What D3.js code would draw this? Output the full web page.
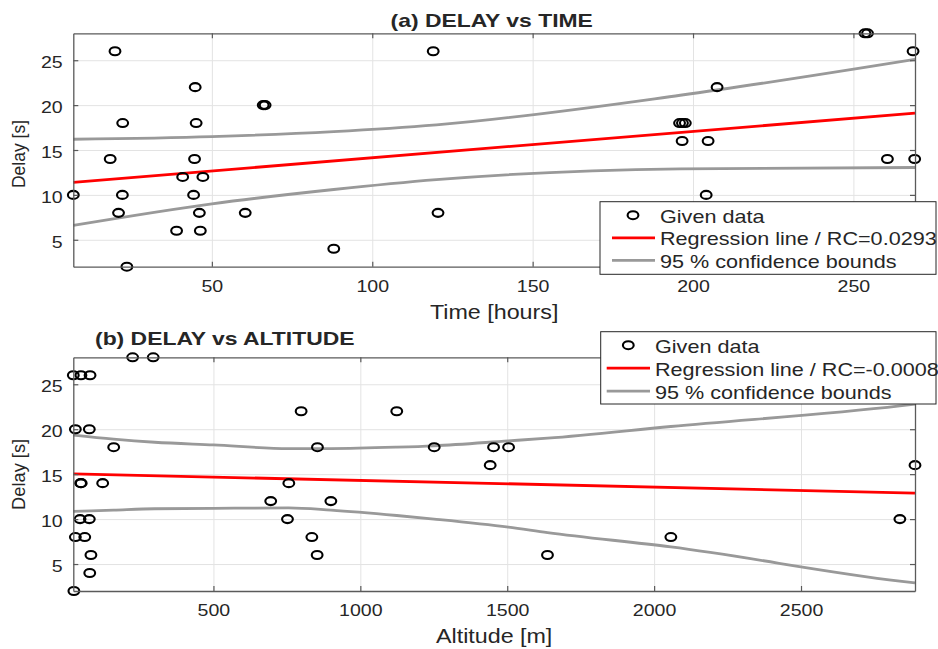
<!DOCTYPE html>
<html>
<head>
<meta charset="utf-8">
<script src="https://cdn.jsdelivr.net/npm/d3@7"></script>
<style>
  body { margin: 0; background: #fff; }
  text { font-family: "Liberation Sans", Arial, sans-serif; fill: #262626; }
</style>
</head>
<body>
<div id="chart"></div>
<script>
// Panel (a): delay vs time.
const timeHours = [19.8, 44.8, 66.0, 66.6, 22.2, 45.1, 18.3, 44.6, 40.9, 47.2, 6.8, 22.1, 44.3, 20.9, 46.1, 60.4,
                   39.0, 46.4, 88.0, 23.5, 119.0, 120.5, 253.6, 254.4, 268.6, 207.5, 195.8, 196.7, 197.6, 196.6,
                   204.7, 260.6, 269.1, 204.1];
const delayA = [26, 22, 20, 20, 18, 18, 14, 14, 12, 12, 10, 10, 10, 8, 8, 8,
                6, 6, 4, 2, 26, 8, 28, 28, 26, 22, 18, 18, 18, 16,
                16, 14, 14, 10];
const fitTime = [6.8, 269.2];
const fitA = [11.4, 19.1];
const boundTime = [6.8, 50, 88, 120, 196, 269.2];
const upperA = [16.2, 16.5, 17.05, 17.8, 21.1, 25.1];
const lowerA = [6.6, 9.0, 10.6, 11.7, 12.9, 13.05];

// Panel (b): delay vs altitude.
const altitude = [23, 49, 80, 225, 295, 30, 77.5, 160.5, 48, 50, 123, 46, 77.5, 30, 62, 83, 79, 25,
                  798.5, 695, 756.6, 752, 854, 899.7, 835, 853, 1124, 1251.5, 1453.5, 1504.6, 1442, 1637,
                  2888, 2836.5, 2057];
const delayB = [26, 26, 26, 28, 28, 20, 20, 18, 14, 14, 14, 10, 10, 8, 8, 6, 4, 2,
                22, 12, 14, 10, 18, 12, 8, 6, 22, 18, 18, 18, 16, 6,
                16, 10, 8];
const fitAlt = [23, 2888];
const fitB = [15.03, 12.9];
const boundAlt = [23, 160, 300, 500, 756, 900, 1124, 1251, 1504, 1637, 2057, 2836, 2888];
const upperB = [19.35, 18.9, 18.55, 18.25, 17.85, 17.85, 18.0, 18.15, 18.7, 19.0, 20.3, 22.6, 22.8];
const lowerB = [10.85, 11.0, 11.15, 11.2, 11.25, 11.0, 10.4, 10.0, 9.1, 8.5, 6.9, 3.1, 2.9];

const delayTicks = [5, 10, 15, 20, 25];
const timeTicks = [50, 100, 150, 200, 250];
const altTicks = [500, 1000, 1500, 2000, 2500];

const legendA = ['Given data', 'Regression line / RC=0.0293', '95 % confidence bounds'];
const legendB = ['Given data', 'Regression line / RC=-0.0008', '95 % confidence bounds'];

// SVG constants.
const width = 938;
const height = 649;
const sx = 1.2; // text looks horizontally stretched in the original

const svg = d3.select('#chart')
              .append('svg')
              .attr('width', width)
              .attr('height', height);

function stretchText(sel) {
    sel.attr('transform', function() {
        const old = d3.select(this).attr('data-t') || '';
        return old + ' scale(' + sx + ',1)';
    });
}

function drawPanel(p) {
    const x = d3.scaleLinear().domain(p.xDomain).range([p.left, p.right]);
    const y = d3.scaleLinear().domain([2, 28]).range([p.bottom, p.top]);
    const g = svg.append('g');

    // Grid.
    g.append('g')
     .attr('transform', 'translate(0,' + p.bottom + ')')
     .call(d3.axisBottom(x).tickValues(p.xTicks).tickSize(-(p.bottom - p.top)).tickFormat(''))
     .call(a => a.select('.domain').remove())
     .selectAll('line').attr('stroke', '#e3e3e3').attr('stroke-width', 1);
    g.append('g')
     .attr('transform', 'translate(' + p.left + ',0)')
     .call(d3.axisLeft(y).tickValues(delayTicks).tickSize(-(p.right - p.left)).tickFormat(''))
     .call(a => a.select('.domain').remove())
     .selectAll('line').attr('stroke', '#e3e3e3').attr('stroke-width', 1);

    // Confidence bounds and regression line.
    const line = d3.line().x(d => x(d[0])).y(d => y(d[1])).curve(d3.curveMonotoneX);
    [p.upper, p.lower].forEach(b => {
        g.append('path')
         .datum(p.boundX.map((v, i) => [v, b[i]]))
         .attr('d', line)
         .attr('fill', 'none')
         .attr('stroke', '#999999')
         .attr('stroke-width', 2.8);
    });
    g.append('path')
     .datum(p.fitX.map((v, i) => [v, p.fit[i]]))
     .attr('d', line)
     .attr('fill', 'none')
     .attr('stroke', '#ff0000')
     .attr('stroke-width', 2.8);

    // Data points.
    g.selectAll('ellipse.pt')
     .data(p.xs.map((v, i) => [v, p.ys[i]]))
     .enter()
     .append('ellipse')
     .attr('class', 'pt')
     .attr('cx', d => x(d[0]))
     .attr('cy', d => y(d[1]))
     .attr('rx', 5.4)
     .attr('ry', 4)
     .attr('fill', 'none')
     .attr('stroke', '#000')
     .attr('stroke-width', 2.1);

    // Axes (box with inward ticks).
    const axisColor = '#5a5a5a';
    const bottomAxis = g.append('g')
     .attr('transform', 'translate(0,' + p.bottom + ')')
     .call(d3.axisBottom(x).tickValues(p.xTicks).tickSize(-5).tickSizeOuter(0)
             .tickPadding(13.4).tickFormat(d3.format('d')));
    const topAxis = g.append('g')
     .attr('transform', 'translate(0,' + p.top + ')')
     .call(d3.axisTop(x).tickValues(p.xTicks).tickSize(-5).tickSizeOuter(0).tickFormat(''));
    const leftAxis = g.append('g')
     .attr('transform', 'translate(' + p.left + ',0)')
     .call(d3.axisLeft(y).tickValues(delayTicks).tickSize(-5).tickSizeOuter(0));
    const rightAxis = g.append('g')
     .attr('transform', 'translate(' + p.right + ',0)')
     .call(d3.axisRight(y).tickValues(delayTicks).tickSize(-5).tickSizeOuter(0).tickFormat(''));

    [bottomAxis, topAxis, leftAxis, rightAxis].forEach(a => {
        a.select('.domain').attr('stroke', axisColor).attr('stroke-width', 1.3);
        a.selectAll('line').attr('stroke', axisColor).attr('stroke-width', 1.2);
        a.selectAll('text').style('font-size', '16.3px').attr('fill', '#262626')
         .style('font-family', '"Liberation Sans", Arial, sans-serif');
    });
    bottomAxis.selectAll('text').attr('data-t', '').call(stretchText);
    leftAxis.selectAll('text')
            .attr('x', 0)
            .attr('dy', '0.45em')
            .attr('data-t', 'translate(-10.6,0)')
            .call(stretchText);

    // Labels and title.
    g.append('text')
     .attr('text-anchor', 'middle')
     .style('font-size', '19.4px')
     .attr('data-t', 'translate(' + ((p.left + p.right) / 2) + ',' + (p.bottom + 52) + ')')
     .text(p.xLabel)
     .call(stretchText);
    g.append('text')
     .attr('text-anchor', 'middle')
     .style('font-size', p.yLabelSize + 'px')
     .attr('transform', 'translate(' + p.yLabelX + ',' + p.yLabelY + ') rotate(-90)')
     .text('Delay [s]');
    g.append('text')
     .attr('text-anchor', p.titleAnchor)
     .style('font-size', '19.1px')
     .style('font-weight', 'bold')
     .attr('fill', '#000')
     .attr('data-t', 'translate(' + p.titleX + ',' + p.titleY + ')')
     .text(p.title)
     .call(stretchText);

    // Legend.
    const L = p.legend;
    const lg = g.append('g');
    lg.append('rect')
      .attr('x', L.x).attr('y', L.y)
      .attr('width', L.w).attr('height', L.h)
      .attr('fill', '#fff')
      .attr('stroke', '#262626')
      .attr('stroke-width', 1);
    lg.append('ellipse')
      .attr('cx', L.markX).attr('cy', L.rowY)
      .attr('rx', 5.4).attr('ry', 4)
      .attr('fill', 'none').attr('stroke', '#000').attr('stroke-width', 2.1);
    ['#ff0000', '#999999'].forEach((c, i) => {
        lg.append('line')
          .attr('x1', L.lineX1).attr('x2', L.lineX2)
          .attr('y1', L.rowY + (i + 1) * L.step).attr('y2', L.rowY + (i + 1) * L.step)
          .attr('stroke', c).attr('stroke-width', 2.8);
    });
    L.labels.forEach((t, i) => {
        lg.append('text')
          .style('font-size', '18px')
          .attr('data-t', 'translate(' + L.textX + ',' + (L.rowY + 7.5 + i * L.step) + ')')
          .text(t)
          .call(stretchText);
    });
}

drawPanel({
    left: 73.3, right: 915, top: 33.3, bottom: 266.7,
    xDomain: [6.8, 269.2], xTicks: timeTicks,
    xs: timeHours, ys: delayA,
    fitX: fitTime, fit: fitA,
    boundX: boundTime, upper: upperA, lower: lowerA,
    xLabel: 'Time [hours]',
    yLabelX: 25, yLabelY: 154, yLabelSize: 17.5,
    title: '(a) DELAY vs TIME', titleAnchor: 'middle', titleX: 491.7, titleY: 26.7,
    legend: { x: 600, y: 201.7, w: 336, h: 72.6, markX: 633, rowY: 215.2, step: 22.6,
              lineX1: 612, lineX2: 655, textX: 660, labels: legendA }
});

drawPanel({
    left: 73.3, right: 915, top: 357.3, bottom: 591,
    xDomain: [23, 2888], xTicks: altTicks,
    xs: altitude, ys: delayB,
    fitX: fitAlt, fit: fitB,
    boundX: boundAlt, upper: upperB, lower: lowerB,
    xLabel: 'Altitude [m]',
    yLabelX: 25, yLabelY: 474.4, yLabelSize: 18.3,
    title: '(b) DELAY vs ALTITUDE', titleAnchor: 'start', titleX: 95, titleY: 345,
    legend: { x: 600.7, y: 331.7, w: 335.3, h: 72.3, markX: 628.3, rowY: 345.2, step: 23,
              lineX1: 606.7, lineX2: 650, textX: 655, labels: legendB }
});
</script>
</body>
</html>
